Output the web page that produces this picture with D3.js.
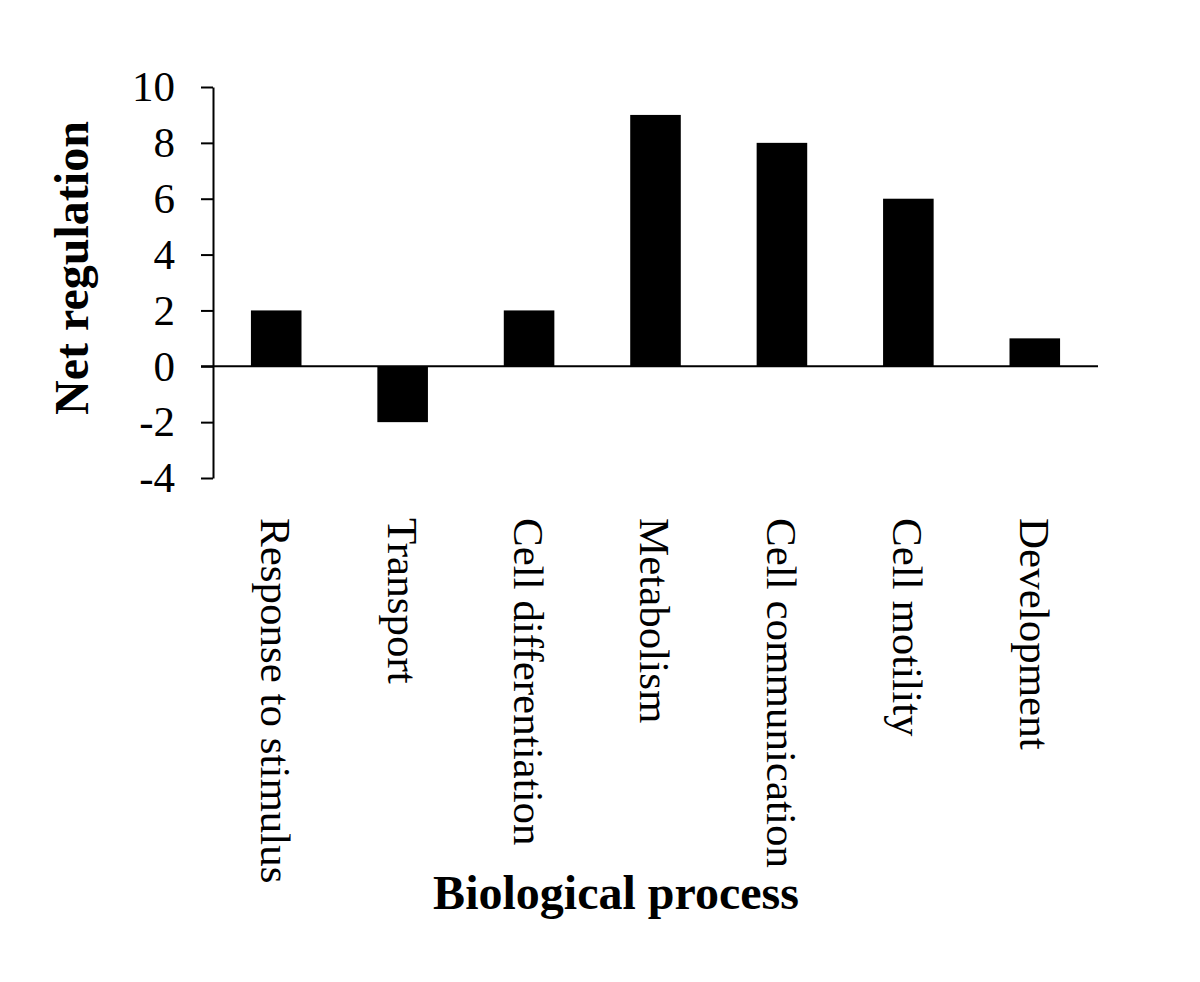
<!DOCTYPE html>
<html>
<head>
<meta charset="utf-8">
<script src="https://cdn.jsdelivr.net/npm/d3@7"></script>
<style>
  body { margin: 0; background: #fff; }
  text { font-family: "Liberation Serif", "Times New Roman", serif; fill: #000; }
</style>
</head>
<body>
<div id="chart"></div>
<script>
// Data
const categories = ["Response to stimulus", "Transport", "Cell differentiation", "Metabolism",
    "Cell communication", "Cell motility", "Development"];
const netRegulation = [2, -2, 2, 9, 8, 6, 1];
const yTicks = [-4, -2, 0, 2, 4, 6, 8, 10];

const width = 1200;
const height = 982;
const plot = { left: 213, right: 1098, top: 87, bottom: 478 };

const svg = d3.select("#chart")
    .append("svg")
    .attr("width", width)
    .attr("height", height);

const x = d3.scaleBand()
    .domain(categories)
    .range([plot.left, plot.right])
    .paddingInner(0.6)
    .paddingOuter(0.3);

const y = d3.scaleLinear()
    .domain([-4, 10])
    .range([plot.bottom, plot.top]);

//Bars
svg.selectAll(".bar")
    .data(categories)
    .enter().append("rect")
    .attr("class", "bar")
    .attr("x", d => x(d))
    .attr("width", x.bandwidth())
    .attr("y", (d, i) => y(Math.max(0, netRegulation[i])))
    .attr("height", (d, i) => Math.abs(y(netRegulation[i]) - y(0)))
    .attr("fill", "#000");

//Y axis (plain hyphen for negatives, like the original)
const yAxis = svg.append("g")
    .attr("transform", `translate(${plot.left},0)`)
    .call(d3.axisLeft(y)
        .tickValues(yTicks)
        .tickFormat(d => String(d))
        .tickSize(12)
        .tickSizeOuter(0)
        .tickPadding(26));
yAxis.select(".domain").attr("stroke", "#000").attr("stroke-width", 2);
yAxis.selectAll(".tick line").attr("stroke", "#000").attr("stroke-width", 2);
yAxis.selectAll(".tick text")
    .attr("font-family", "Liberation Serif, Times New Roman, serif")
    .attr("font-size", 43)
    .attr("fill", "#000");

//Zero line
svg.append("line")
    .attr("x1", plot.left - 12)
    .attr("x2", plot.right)
    .attr("y1", y(0))
    .attr("y2", y(0))
    .attr("stroke", "#000")
    .attr("stroke-width", 2);

//Category labels, rotated
svg.selectAll(".cat")
    .data(categories)
    .enter().append("text")
    .attr("class", "cat")
    .attr("transform", d => `translate(${x(d) + x.bandwidth() / 2},518) rotate(90)`)
    .attr("dy", "0.35em")
    .attr("font-size", 43)
    .text(d => d);

//Axis titles
svg.append("text")
    .attr("transform", `translate(88,268) rotate(-90)`)
    .attr("text-anchor", "middle")
    .attr("font-size", 48)
    .attr("font-weight", "bold")
    .text("Net regulation");

svg.append("text")
    .attr("x", 616)
    .attr("y", 909)
    .attr("text-anchor", "middle")
    .attr("font-size", 48)
    .attr("font-weight", "bold")
    .text("Biological process");
</script>
</body>
</html>
